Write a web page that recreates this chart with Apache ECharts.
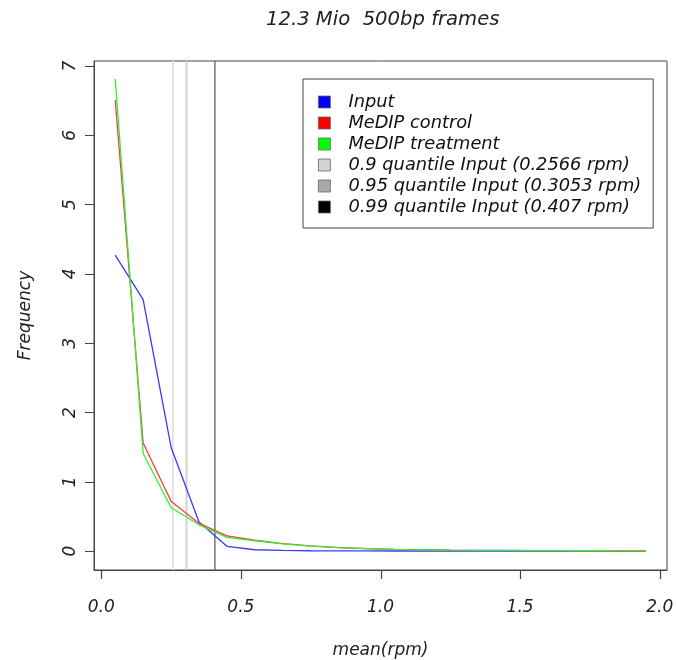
<!DOCTYPE html>
<html>
<head>
<meta charset="utf-8">
<script src="https://cdn.jsdelivr.net/npm/echarts@6/dist/echarts.min.js"></script>
<style>html,body{margin:0;padding:0;background:#fff}#c{width:676px;height:660px}</style>
</head>
<body>
<div id="c"></div>
<script>
const binMid = [0.05,0.15,0.25,0.35,0.45,0.55,0.65,0.75,0.85,0.95,1.05,1.15,1.25,1.35,1.45,1.55,1.65,1.75,1.85,1.95];
const inputFreq = [4.27,3.63,1.50,0.42,0.07,0.02,0.01,0.006,0.004,0.003,0.002,0.002,0.001,0.001,0.001,0.001,0.001,0.0005,0.0005,0.0005];
const controlFreq = [6.51,1.56,0.72,0.40,0.22,0.16,0.11,0.075,0.05,0.035,0.025,0.02,0.015,0.012,0.01,0.008,0.007,0.006,0.005,0.004];
const treatmentFreq = [6.81,1.41,0.63,0.38,0.20,0.15,0.105,0.072,0.05,0.035,0.025,0.02,0.015,0.012,0.01,0.008,0.007,0.006,0.005,0.004];
const quantileNames = ['0.9 quantile Input (0.2566 rpm)','0.95 quantile Input (0.3053 rpm)','0.99 quantile Input (0.407 rpm)'];
const quantileValues = [0.2566, 0.3053, 0.407];
const xTicks = [0, 0.5, 1.0, 1.5, 2.0];
const yTicks = [0,1,2,3,4,5,6,7];

const font = 'DejaVu Sans';
const xMin = -0.026, xMax = 2.026, yMin = -0.272, yMax = 7.072;

function pairs(xs, ys){ return xs.map((x,i)=>[x, ys[i]]); }

const quantileLineColors = ['#e2e2e2','#d2d2d2','#555555'];
const quantileLegendColors = ['#d3d3d3','#a9a9a9','#000000'];
const quantileWidths = [2,2,1.2];

const series = [
  {name:'Input', type:'line', data:pairs(binMid,inputFreq), symbol:'none', lineStyle:{color:'#3a3aff',width:1.3}, itemStyle:{color:'#0000ff'}, z:3},
  {name:'MeDIP control', type:'line', data:pairs(binMid,controlFreq), symbol:'none', lineStyle:{color:'#ff3a3a',width:1.3}, itemStyle:{color:'#ff0000'}, z:4},
  {name:'MeDIP treatment', type:'line', data:pairs(binMid,treatmentFreq), symbol:'none', lineStyle:{color:'#33ee33',width:1.3}, itemStyle:{color:'#00ff00'}, z:5}
];
quantileNames.forEach((n,i)=>{
  series.push({name:n, type:'line', data:[[quantileValues[i], yMin],[quantileValues[i], yMax]], symbol:'none',
    lineStyle:{color:quantileLineColors[i], width:quantileWidths[i]}, itemStyle:{color:quantileLegendColors[i]}, z:2, silent:true});
});
// x-axis tick marks below the frame, positioned by the x scale
series.push({
  name:'xticks', type:'custom', silent:true, clip:false, z:6,
  data: xTicks.map(t=>[t, yMin]),
  renderItem: function(params, api){
    const p = api.coord([api.value(0), api.value(1)]);
    return {type:'line', shape:{x1:Math.round(p[0])+0.5, y1:p[1], x2:Math.round(p[0])+0.5, y2:p[1]+9},
      style:{stroke:'#444', lineWidth:1.2}};
  }
});

const chart = echarts.init(document.getElementById('c'), null, {renderer:'canvas'});
chart.setOption({
  animation:false,
  backgroundColor:'#ffffff',
  textStyle:{fontFamily:font},
  title:{text:'12.3 Mio  500bp frames', left:261, top:5,
    textStyle:{fontFamily:font, fontStyle:'italic', fontWeight:'normal', fontSize:19.6, color:'#222'}},
  grid:{left:94, right:9, top:61, bottom:90, show:true, borderColor:'#444', borderWidth:1, backgroundColor:'transparent',
    containLabel:false, outerBoundsMode:'none'},
  legend:{
    orient:'vertical', left:303, top:79, icon:'rect', itemWidth:12, itemHeight:12, itemGap:3,
    padding:[14,12,12,15], borderColor:'#444', borderWidth:1, backgroundColor:'#fff',
    selectedMode:false,
    itemStyle:{borderColor:'#666', borderWidth:0.8},
    textStyle:{fontFamily:font, fontStyle:'italic', fontSize:17.8, color:'#111', padding:[0,0,0,13]},
    data: ['Input','MeDIP control','MeDIP treatment'].concat(quantileNames)
  },
  xAxis:{type:'value', min:xMin, max:xMax, position:'bottom',
    name:'mean(rpm)', nameLocation:'middle', nameGap:72,
    nameTextStyle:{fontFamily:font, fontStyle:'italic', fontSize:17, color:'#222'},
    axisLine:{show:true, onZero:false, lineStyle:{color:'#444', width:1}}, splitLine:{show:false},
    axisTick:{show:false},
    axisLabel:{show:true, margin:29, fontFamily:font, fontStyle:'italic', fontSize:17, color:'#222', customValues:xTicks,
      formatter:v=>v.toFixed(1)}
  },
  yAxis:{type:'value', min:yMin, max:yMax, position:'left',
    name:'Frequency', nameLocation:'middle', nameGap:60, nameRotate:90,
    nameTextStyle:{fontFamily:font, fontStyle:'italic', fontSize:17, color:'#222'},
    axisLine:{show:true, onZero:false, lineStyle:{color:'#444', width:1}}, splitLine:{show:false},
    axisTick:{show:true, inside:false, length:9, lineStyle:{color:'#444', width:1}, customValues:yTicks},
    axisLabel:{show:true, rotate:90, margin:15, fontFamily:font, fontStyle:'italic', fontSize:17, color:'#222', customValues:yTicks,
      formatter:v=>String(v)}
  },
  series: series
});
</script>
</body>
</html>
